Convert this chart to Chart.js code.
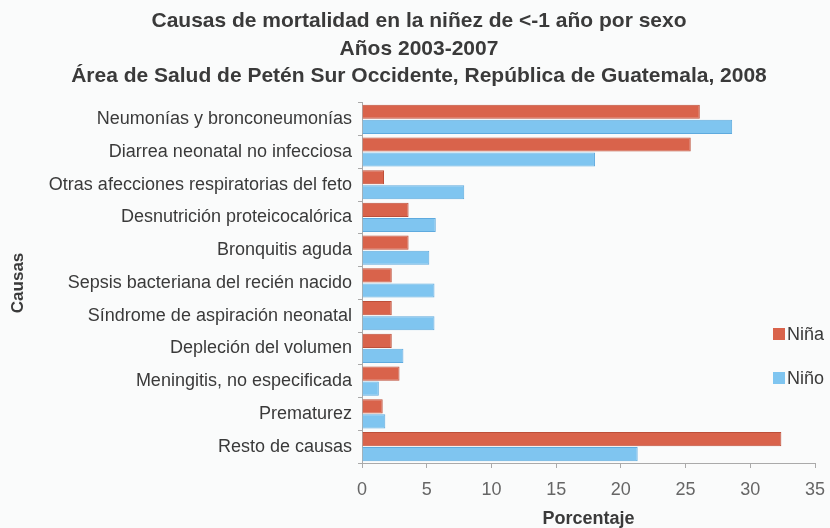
<!DOCTYPE html>
<html>
<head>
<meta charset="utf-8">
<script src="https://cdn.jsdelivr.net/npm/chart.js@4/dist/chart.umd.min.js"></script>
<style>
  html, body { margin: 0; padding: 0; background: #fafbfb; }
  #wrap { width: 830px; height: 528px; }
</style>
</head>
<body>
<div id="wrap"><canvas id="myChart" width="830" height="528"></canvas></div>
<script>
// causas, de arriba hacia abajo
const causas = [
  "Neumonías y bronconeumonías",
  "Diarrea neonatal no infecciosa",
  "Otras afecciones respiratorias del feto",
  "Desnutrición proteicocalórica",
  "Bronquitis aguda",
  "Sepsis bacteriana del recién nacido",
  "Síndrome de aspiración neonatal",
  "Depleción del volumen",
  "Meningitis, no especificada",
  "Prematurez",
  "Resto de causas"
];
// porcentajes
const nina = [26.1, 25.4, 1.7, 3.6, 3.6, 2.3, 2.3, 2.3, 2.9, 1.6, 32.4];
const nino = [28.6, 18.0, 7.9, 5.7, 5.2, 5.6, 5.6, 3.2, 1.3, 1.8, 21.3];
const xTicks = [0, 5, 10, 15, 20, 25, 30, 35];

const rojo = "#d9634b";
const azul = "#7fc5f0";
const txt = "#3a3a3a";
const FONT = "'Liberation Sans', Arial, sans-serif";

// leyenda a la derecha, dibujada a mano
const legendaPlugin = {
  id: "legenda",
  afterDraw(chart) {
    const ctx = chart.ctx;
    const items = chart.data.datasets;
    const ys = [334, 378];
    ctx.save();
    ctx.font = "18px " + FONT;
    ctx.textBaseline = "middle";
    items.forEach((ds, i) => {
      ctx.fillStyle = ds.backgroundColor;
      ctx.fillRect(773, ys[i] - 6, 12, 12);
      ctx.fillStyle = txt;
      ctx.fillText(ds.label, 787, ys[i] + 1);
    });
    ctx.restore();
  }
};

const bg = {
  id: "bg",
  beforeDraw(chart) {
    const c = chart.ctx;
    c.save();
    c.fillStyle = "#fafbfb";
    c.fillRect(0, 0, chart.width, chart.height);
    c.restore();
  }
};

new Chart(document.getElementById("myChart").getContext("2d"), {
  type: "bar",
  data: {
    labels: causas,
    datasets: [
      { label: "Niña", data: nina, backgroundColor: rojo, borderColor: "#bd4f39", borderWidth: 1,
        barPercentage: 0.94, categoryPercentage: 0.92 },
      { label: "Niño", data: nino, backgroundColor: azul, borderColor: "#5eaade", borderWidth: 1,
        barPercentage: 0.94, categoryPercentage: 0.92 }
    ]
  },
  options: {
    indexAxis: "y",
    responsive: false,
    animation: false,
    layout: { padding: { left: 8, right: 0, top: 0, bottom: 0 } },
    plugins: {
      legend: { display: false },
      tooltip: { enabled: false },
      title: {
        display: true,
        text: [
          "Causas de mortalidad en la niñez de <-1 año por sexo",
          "Años 2003-2007",
          "Área de Salud de Petén Sur Occidente, República de Guatemala, 2008"
        ],
        color: txt,
        font: { family: FONT, size: 21, weight: "bold", lineHeight: 1.3 },
        padding: { top: 8, bottom: 13 }
      }
    },
    scales: {
      x: {
        min: 0,
        max: 35,
        afterBuildTicks: s => { s.ticks = xTicks.map(v => ({ value: v })); },
        afterFit: s => { s.height = 65; s.paddingRight = 15; },
        grid: { drawOnChartArea: false, drawTicks: true, tickLength: 5, color: "#aaaaaa" },
        border: { display: true, color: "#aaaaaa" },
        ticks: { color: "#666", padding: 11, font: { family: FONT, size: 18 } },
        title: {
          display: true, text: "Porcentaje", color: txt,
          font: { family: FONT, size: 18, weight: "bold", lineHeight: 1 }, padding: { top: 4, bottom: 0 }
        }
      },
      y: {
        afterFit: s => { s.width = 354; },
        grid: { drawOnChartArea: false, drawTicks: true, tickLength: 4, color: "#aaaaaa" },
        border: { display: true, color: "#aaaaaa" },
        ticks: { color: txt, padding: 6, font: { family: FONT, size: 18 } },
        title: {
          display: true, text: "Causas", color: txt,
          font: { family: FONT, size: 17, weight: "bold" }, padding: 0
        }
      }
    }
  },
  plugins: [bg, legendaPlugin]
});
</script>
</body>
</html>
